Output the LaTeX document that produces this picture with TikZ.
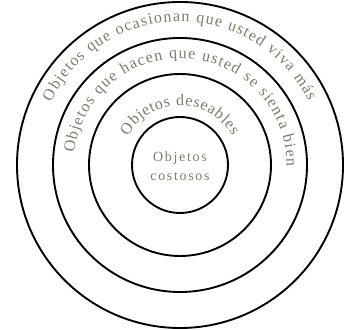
\documentclass[tikz,border=0pt]{standalone}
\usepackage{fontspec}
\setmainfont{Liberation Serif}
\newfontfamily\ringfont{Liberation Serif}
\newfontfamily\centerfont[LetterSpace=12]{Liberation Serif}
\usetikzlibrary{decorations.text,calc}
\definecolor{txtgray}{HTML}{7C7C6A}
\tikzset{
  ring/.style={draw=black, line width=1.9pt, circle, inner sep=0pt},
  ringtext/.style={decorate, decoration={text along path, text align={fit to path},
     text color=txtgray}},
}
\newcommand{\rtf}{\fontsize{16}{18}\selectfont\ringfont}
\begin{document}
\begin{tikzpicture}[x=1pt,y=1pt]
\useasboundingbox (0,0) rectangle (345,329);
\coordinate (C) at (180,164);
\node[ring, minimum size=326pt] (r1) at (C) {};
\node[ring, minimum size=254pt] (r2) at (C) {};
\node[ring, minimum size=182pt] (r3) at (C) {};
\node[ring, minimum size=96pt] (r4) at (C) {};
\path[ringtext, decoration={text={|\rtf|Objetos que ocasionan que usted viva más}}]
  ($(C)+(154:143.5)$) arc[start angle=154, end angle=26.5, radius=143.5];
\path[ringtext, decoration={text={|\rtf|Objetos que hacen que usted se sienta bien}}]
  ($(C)+(173.5:106.5)$) arc[start angle=173.5, end angle=-1, radius=106.5];
\path[ringtext, decoration={text={|\rtf|Objetos deseables}}]
  ($(C)+(151:59.5)$) arc[start angle=151, end angle=29, radius=59.5];
\node[text=txtgray, align=center, font=\fontsize{14}{19}\selectfont\centerfont] (t4) at ($(C)+(0,-1)$) {Objetos\\costosos};
\end{tikzpicture}
\end{document}
